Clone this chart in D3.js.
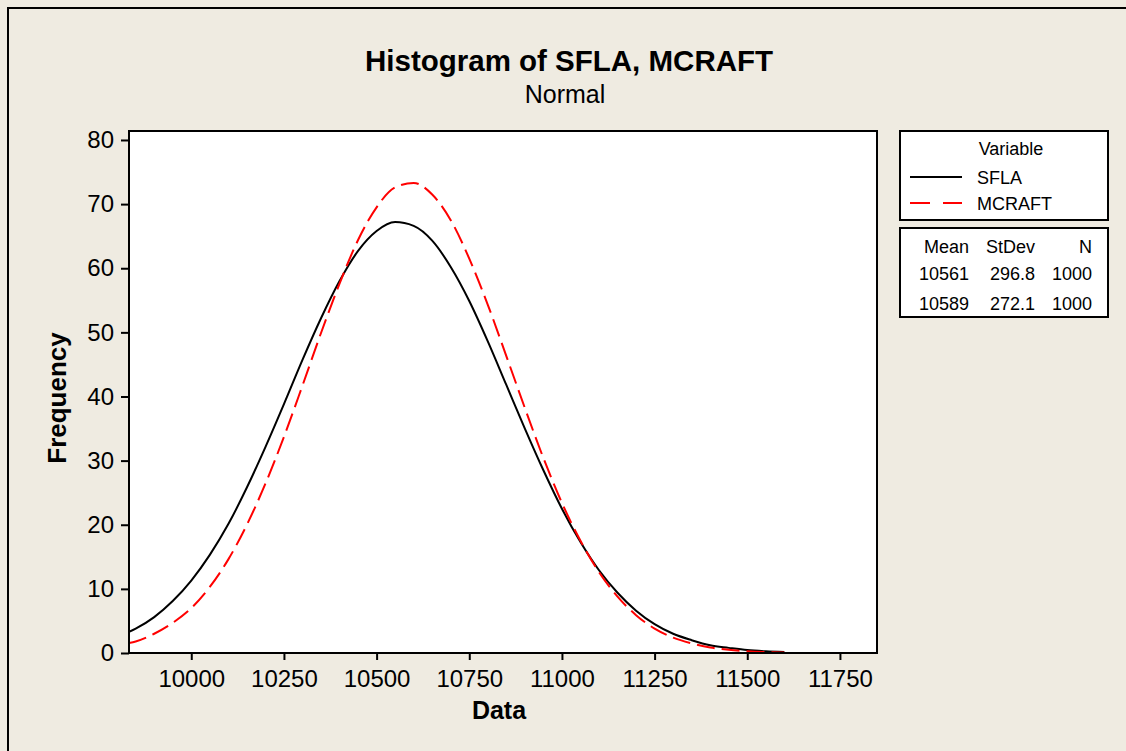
<!DOCTYPE html>
<html>
<head>
<meta charset="utf-8">
<script src="https://cdn.jsdelivr.net/npm/d3@7"></script>
<style>
  body { margin: 0; background: #efebe1; }
  svg { display: block; }
  text { font-family: "Liberation Sans", Arial, sans-serif; fill: #000; }
</style>
</head>
<body>
<div id="chart"></div>
<script>
// Data (fitted normal curves, frequency per bin)
const dataX = [9832, 9850, 9900, 9950, 10000, 10050, 10100, 10150, 10200, 10250, 10300,
  10350, 10400, 10450, 10500, 10550, 10600, 10650, 10700, 10750, 10800, 10850,
  10900, 10950, 11000, 11050, 11100, 11150, 11200, 11250, 11300, 11350, 11400,
  11450, 11500, 11550, 11600];
const sflaY = [3.3, 3.8, 5.6, 8.1, 11.3, 15.3, 20.1, 25.8, 32.1, 38.8, 45.7,
  52.2, 58.0, 62.7, 65.8, 67.2, 66.6, 64.3, 60.2, 54.9, 48.6, 41.8,
  35.0, 28.5, 22.5, 17.3, 12.9, 9.4, 6.6, 4.5, 3.0, 2.0, 1.2,
  0.8, 0.45, 0.26, 0.15];
const mcraftY = [1.55, 1.8, 3.0, 4.7, 7.0, 10.3, 14.6, 20.0, 26.4, 33.7, 41.7,
  49.9, 57.6, 64.4, 69.5, 72.6, 73.3, 71.5, 67.5, 61.5, 54.3, 46.3,
  38.2, 30.4, 23.4, 17.5, 12.6, 8.8, 5.9, 3.8, 2.4, 1.5, 0.86,
  0.49, 0.27, 0.14, 0.07];

const seriesNames = ["SFLA", "MCRAFT"];
const statHeaders = ["Mean", "StDev", "N"];
const statRows = [["10561", "296.8", "1000"], ["10589", "272.1", "1000"]];
const xTicks = [10000, 10250, 10500, 10750, 11000, 11250, 11500, 11750];
const yTicks = [0, 10, 20, 30, 40, 50, 60, 70, 80];

const W = 1126, H = 751;
const plot = {left: 129, right: 877, top: 131, bottom: 653};

const svg = d3.select("#chart").append("svg")
  .attr("width", W)
  .attr("height", H);

// outer frame
svg.append("rect")
  .attr("x", 8).attr("y", 8)
  .attr("width", W + 20).attr("height", H + 20)
  .attr("fill", "#efebe1")
  .attr("stroke", "#000")
  .attr("stroke-width", 2);

// scales
const x = d3.scaleLinear()
  .domain([9832, 11850])
  .range([plot.left, plot.right]);

const y = d3.scaleLinear()
  .domain([0, 81.4])
  .range([plot.bottom, plot.top]);

// plot area
svg.append("rect")
  .attr("x", plot.left).attr("y", plot.top)
  .attr("width", plot.right - plot.left)
  .attr("height", plot.bottom - plot.top)
  .attr("fill", "#fff");

svg.append("clipPath").attr("id", "clip")
  .append("rect")
  .attr("x", plot.left).attr("y", plot.top)
  .attr("width", plot.right - plot.left)
  .attr("height", plot.bottom - plot.top);

const line = d3.line()
  .x((d, i) => x(dataX[i]))
  .y(d => y(d))
  .curve(d3.curveMonotoneX);

const curves = svg.append("g").attr("clip-path", "url(#clip)");

curves.append("path")
  .datum(sflaY)
  .attr("d", line)
  .attr("fill", "none")
  .attr("stroke", "#000")
  .attr("stroke-width", 2);

curves.append("path")
  .datum(mcraftY)
  .attr("d", line)
  .attr("fill", "none")
  .attr("stroke", "#ff0000")
  .attr("stroke-width", 2)
  .attr("stroke-dasharray", "18,7");

// box border
svg.append("rect")
  .attr("x", plot.left).attr("y", plot.top)
  .attr("width", plot.right - plot.left)
  .attr("height", plot.bottom - plot.top)
  .attr("fill", "none")
  .attr("stroke", "#000")
  .attr("stroke-width", 2);

// axes
const xAxis = d3.axisBottom(x)
  .tickValues(xTicks)
  .tickFormat(d3.format("d"))
  .tickSize(7)
  .tickSizeOuter(0)
  .tickPadding(10);

const gx = svg.append("g")
  .attr("transform", `translate(0,${plot.bottom})`)
  .call(xAxis);
gx.select(".domain").remove();
gx.selectAll("line").attr("stroke-width", 2);
gx.selectAll("text")
  .attr("font-size", 24)
  .attr("font-family", "Liberation Sans, Arial, sans-serif");

const yAxis = d3.axisLeft(y)
  .tickValues(yTicks)
  .tickSize(8)
  .tickSizeOuter(0)
  .tickPadding(7);

const gy = svg.append("g")
  .attr("transform", `translate(${plot.left},0)`)
  .call(yAxis);
gy.select(".domain").remove();
gy.selectAll("line").attr("stroke-width", 2);
gy.selectAll("text")
  .attr("font-size", 24)
  .attr("font-family", "Liberation Sans, Arial, sans-serif");

// titles
svg.append("text")
  .attr("x", 569).attr("y", 71)
  .attr("text-anchor", "middle")
  .attr("font-size", 29.5)
  .attr("font-weight", "bold")
  .text("Histogram of SFLA, MCRAFT");

svg.append("text")
  .attr("x", 565).attr("y", 103)
  .attr("text-anchor", "middle")
  .attr("font-size", 25)
  .text("Normal");

svg.append("text")
  .attr("x", 499).attr("y", 719)
  .attr("text-anchor", "middle")
  .attr("font-size", 25)
  .attr("font-weight", "bold")
  .text("Data");

svg.append("text")
  .attr("transform", "translate(66,398) rotate(-90)")
  .attr("text-anchor", "middle")
  .attr("font-size", 26)
  .attr("font-weight", "bold")
  .text("Frequency");

// legend
const legend = svg.append("g");

legend.append("rect")
  .attr("x", 900).attr("y", 131)
  .attr("width", 208).attr("height", 89)
  .attr("fill", "#fff")
  .attr("stroke", "#000")
  .attr("stroke-width", 2);

legend.append("text")
  .attr("x", 1011).attr("y", 155)
  .attr("text-anchor", "middle")
  .attr("font-size", 18)
  .text("Variable");

const legendRow = legend.selectAll("g.row")
  .data(seriesNames)
  .join("g")
  .attr("class", "row")
  .attr("transform", (_, i) => `translate(0,${i * 26})`);

legendRow.append("line")
  .attr("x1", 910).attr("x2", 962)
  .attr("y1", 177).attr("y2", 177)
  .attr("stroke", (d, i) => i === 0 ? "#000" : "#ff0000")
  .attr("stroke-width", 2)
  .attr("stroke-dasharray", (d, i) => i === 0 ? null : "20,13");

legendRow.append("text")
  .attr("x", 977).attr("y", 184)
  .attr("font-size", 18)
  .text(d => d);

// stats table
const stats = svg.append("g");

stats.append("rect")
  .attr("x", 900).attr("y", 228)
  .attr("width", 208).attr("height", 89)
  .attr("fill", "#fff")
  .attr("stroke", "#000")
  .attr("stroke-width", 2);

const colRight = [969, 1035, 1092];

stats.selectAll("text.head")
  .data(statHeaders)
  .join("text")
  .attr("class", "head")
  .attr("x", (d, i) => colRight[i])
  .attr("y", 253)
  .attr("text-anchor", "end")
  .attr("font-size", 18)
  .text(d => d);

statRows.forEach((row, r) => {
  stats.selectAll(`text.r${r}`)
    .data(row)
    .join("text")
    .attr("class", `r${r}`)
    .attr("x", (d, i) => colRight[i])
    .attr("y", 280 + r * 29.5)
    .attr("text-anchor", "end")
    .attr("font-size", 18)
    .text(d => d);
});
</script>
</body>
</html>
